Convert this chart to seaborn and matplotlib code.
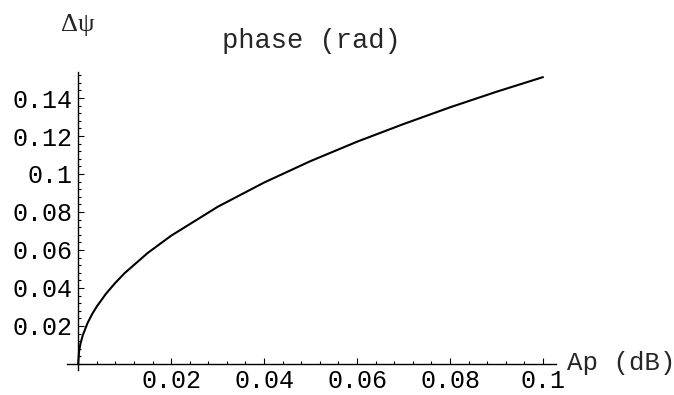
import matplotlib
matplotlib.use("Agg")
import matplotlib.pyplot as plt
import seaborn as sns
import pandas as pd
from matplotlib.ticker import FixedLocator, MultipleLocator

# Phase deviation versus passband ripple
ripple_db = [0.0, 0.0002, 0.0005, 0.001, 0.002, 0.003, 0.004, 0.006, 0.008, 0.010,
             0.015, 0.020, 0.030, 0.040, 0.050, 0.060, 0.070, 0.080, 0.090, 0.100]
phase_rad = [0.0, 0.0068, 0.0107, 0.0151, 0.0214, 0.0262, 0.0302, 0.0370, 0.0427, 0.0478,
             0.0585, 0.0675, 0.0827, 0.0955, 0.1068, 0.1170, 0.1263, 0.1351, 0.1433, 0.1510]

x_ticks = [0.02, 0.04, 0.06, 0.08, 0.1]
x_tick_labels = ["0.02", "0.04", "0.06", "0.08", "0.1"]
y_ticks = [0.02, 0.04, 0.06, 0.08, 0.10, 0.12, 0.14]
y_tick_labels = ["0.02", "0.04", "0.06", "0.08", "0.1", "0.12", "0.14"]

sns.set_style("white")
plt.rcParams["font.family"] = ["Liberation Mono", "DejaVu Sans Mono"]

df = pd.DataFrame({"Ap": ripple_db, "phase": phase_rad})

W, H = 674, 395
fig = plt.figure(figsize=(W / 100, H / 100), dpi=100)
ax = fig.add_axes([67 / W, (H - 370) / H, 489 / W, 298 / H])

sns.lineplot(data=df, x="Ap", y="phase", ax=ax, color="black", linewidth=1.5)

ax.set_xlim(-0.0024, 0.1028)
ax.set_ylim(-0.0032, 0.1537)

for side in ("top", "right"):
    ax.spines[side].set_visible(False)
ax.spines["left"].set_position(("data", 0))
ax.spines["bottom"].set_position(("data", 0))
for side in ("left", "bottom"):
    ax.spines[side].set_color("black")
    ax.spines[side].set_linewidth(1.0)

ax.xaxis.set_major_locator(FixedLocator(x_ticks))
ax.set_xticklabels(x_tick_labels)
ax.yaxis.set_major_locator(FixedLocator(y_ticks))
ax.set_yticklabels(y_tick_labels)
ax.xaxis.set_minor_locator(MultipleLocator(0.004))
ax.yaxis.set_minor_locator(MultipleLocator(0.004))

ax.tick_params(which="both", direction="in", color="black", width=0.8,
               bottom=True, left=True, labelsize=18, labelcolor="black")
ax.tick_params(which="major", length=4.5)
ax.tick_params(which="minor", length=2.2)
ax.tick_params(axis="x", pad=4)
ax.tick_params(axis="y", pad=4)

ax.set_xlabel("")
ax.set_ylabel("")

fig.text(567 / W, (H - 370) / H, "Ap (dB)", fontsize=18.5, ha="left", va="baseline")
fig.text(311 / W, (H - 48) / H, "phase (rad)", fontsize=19.5, ha="center", va="baseline")
fig.text(78 / W, (H - 31) / H, "Δψ", fontsize=19, ha="center", va="baseline",
         family=["Liberation Serif", "DejaVu Serif"])

fig.savefig("out.png", dpi=100, facecolor="white")
